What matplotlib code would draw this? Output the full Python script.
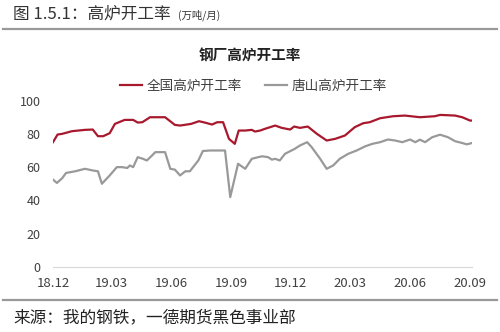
import matplotlib
matplotlib.use("Agg")
import matplotlib.pyplot as plt
import pandas as pd

plt.rcParams['font.family'] = ['Noto Sans CJK SC', 'DejaVu Sans']

# 全国高炉开工率 (traced vertices)
national_dates = ['2018-12-01', '2018-12-08', '2018-12-15', '2018-12-30', '2019-01-19', '2019-01-31',
                  '2019-02-08', '2019-02-16', '2019-02-26', '2019-03-06', '2019-03-21', '2019-04-03',
                  '2019-04-10', '2019-04-17', '2019-04-29', '2019-05-22', '2019-06-06', '2019-06-14',
                  '2019-07-01', '2019-07-13', '2019-07-22', '2019-08-02', '2019-08-10', '2019-08-19',
                  '2019-08-28', '2019-09-06', '2019-09-12', '2019-09-22', '2019-10-02', '2019-10-07',
                  '2019-10-15', '2019-10-22', '2019-11-07', '2019-11-17', '2019-11-30', '2019-12-06',
                  '2019-12-15', '2019-12-27', '2020-01-10', '2020-01-25', '2020-02-07', '2020-02-22',
                  '2020-03-08', '2020-03-21', '2020-03-31', '2020-04-16', '2020-05-06', '2020-05-24',
                  '2020-06-16', '2020-07-09', '2020-07-17', '2020-08-09', '2020-08-20', '2020-09-01',
                  '2020-09-04']
national = [75, 79.6, 80, 81.6, 82.4, 82.6,
            78.6, 78.6, 80.4, 86, 88.4, 88.4,
            86.8, 87, 90, 90, 85.4, 85,
            86, 87.6, 86.8, 85.6, 87, 87,
            77, 74, 82, 82, 82.4, 81.4,
            82, 83, 85, 83.6, 82.6, 84.4,
            83.6, 84.4, 80, 76, 77, 79,
            84, 86.4, 87, 89.4, 90.6, 91,
            90, 90.6, 91.4, 91, 90, 88,
            88]

# 唐山高炉开工率 (traced vertices)
tangshan_dates = ['2018-12-01', '2018-12-07', '2018-12-15', '2018-12-21', '2019-01-04', '2019-01-19',
                  '2019-01-31', '2019-02-08', '2019-02-14', '2019-02-26', '2019-03-09', '2019-03-17',
                  '2019-03-25', '2019-03-29', '2019-04-03', '2019-04-10', '2019-04-18', '2019-04-24',
                  '2019-05-02', '2019-05-07', '2019-05-22', '2019-05-30', '2019-06-06', '2019-06-14',
                  '2019-06-22', '2019-06-29', '2019-07-12', '2019-07-19', '2019-07-30', '2019-08-22',
                  '2019-08-30', '2019-09-11', '2019-09-22', '2019-10-02', '2019-10-12', '2019-10-18',
                  '2019-10-27', '2019-11-02', '2019-11-07', '2019-11-14', '2019-11-22', '2019-12-07',
                  '2019-12-15', '2019-12-26', '2020-01-02', '2020-01-15', '2020-01-25', '2020-02-04',
                  '2020-02-14', '2020-02-27', '2020-03-11', '2020-03-24', '2020-04-04', '2020-04-16',
                  '2020-04-28', '2020-05-09', '2020-05-20', '2020-06-01', '2020-06-09', '2020-06-16',
                  '2020-06-24', '2020-07-05', '2020-07-17', '2020-07-29', '2020-08-09', '2020-08-20',
                  '2020-08-27', '2020-09-04']
tangshan = [52.5, 50.5, 53.3, 56.5, 57.5, 59,
            58, 57.5, 50, 55, 60, 60,
            59.5, 61, 60, 66, 65, 64,
            67, 69, 69, 59, 58.5, 55,
            57.5, 57.5, 64, 69.7, 70, 70,
            42, 62, 59, 65, 66, 66.5,
            66, 64.5, 65, 64, 68, 71,
            73, 75, 72, 65, 59, 61,
            65, 68, 70, 72.5, 74, 75,
            76.6, 76, 75, 76.6, 75, 76.5,
            75, 78, 79.5, 78, 75.6, 74.5,
            73.7, 74.5]

tick_dates = ['2018-12-01', '2019-03-01', '2019-06-01', '2019-09-01',
              '2019-12-01', '2020-03-01', '2020-06-01', '2020-09-01']
tick_labels = ['18.12', '19.03', '19.06', '19.09', '19.12', '20.03', '20.06', '20.09']
y_ticks = [0, 20, 40, 60, 80, 100]

red = '#A8192E'
grey = '#999999'
txt = '#404040'

fig = plt.figure(figsize=(5, 3.32), dpi=100)

# header / footer
fig.text(0.026, 0.958, '图 1.5.1：高炉开工率', fontsize=12, color='#333333', va='center')
fig.text(0.356, 0.953, '(万吨/月)', fontsize=7.5, color='#333333', va='center')
fig.add_artist(plt.Line2D([0.006, 0.994], [0.913, 0.913], color='#999999', lw=1.6))
fig.add_artist(plt.Line2D([0.006, 0.994], [0.095, 0.095], color='#999999', lw=1.6))
fig.text(0.026, 0.042, '来源：我的钢铁，一德期货黑色事业部', fontsize=12, color='#222222', va='center')

fig.text(0.5, 0.834, '钢厂高炉开工率', fontsize=10.5, fontweight='bold', color='#222222',
         ha='center', va='center')

ax = fig.add_axes([0.106, 0.196, 0.838, 0.501])
ax.plot(pd.to_datetime(national_dates), national, color=red, lw=1.6, label='全国高炉开工率')
ax.plot(pd.to_datetime(tangshan_dates), tangshan, color=grey, lw=1.6, label='唐山高炉开工率')

ax.set_xlim(pd.Timestamp('2018-12-01'), pd.Timestamp('2020-09-04'))
ax.set_ylim(0, 100)
ax.set_xticks(pd.to_datetime(tick_dates))
ax.set_xticklabels(tick_labels)
ax.set_yticks(y_ticks)
ax.tick_params(axis='x', length=0, pad=7, labelsize=9.5, labelcolor=txt)
ax.tick_params(axis='y', length=0, pad=9, labelsize=9, labelcolor=txt)
for s in ['top', 'right', 'left']:
    ax.spines[s].set_visible(False)
ax.spines['bottom'].set_color('#D9D9D9')

ax.legend(loc='center', bbox_to_anchor=(0.479, 1.09), ncol=2, frameon=False, fontsize=9.8,
          handlelength=1.6, handletextpad=0.35, columnspacing=1.7, labelcolor=txt)

fig.savefig('out.png', dpi=100)
